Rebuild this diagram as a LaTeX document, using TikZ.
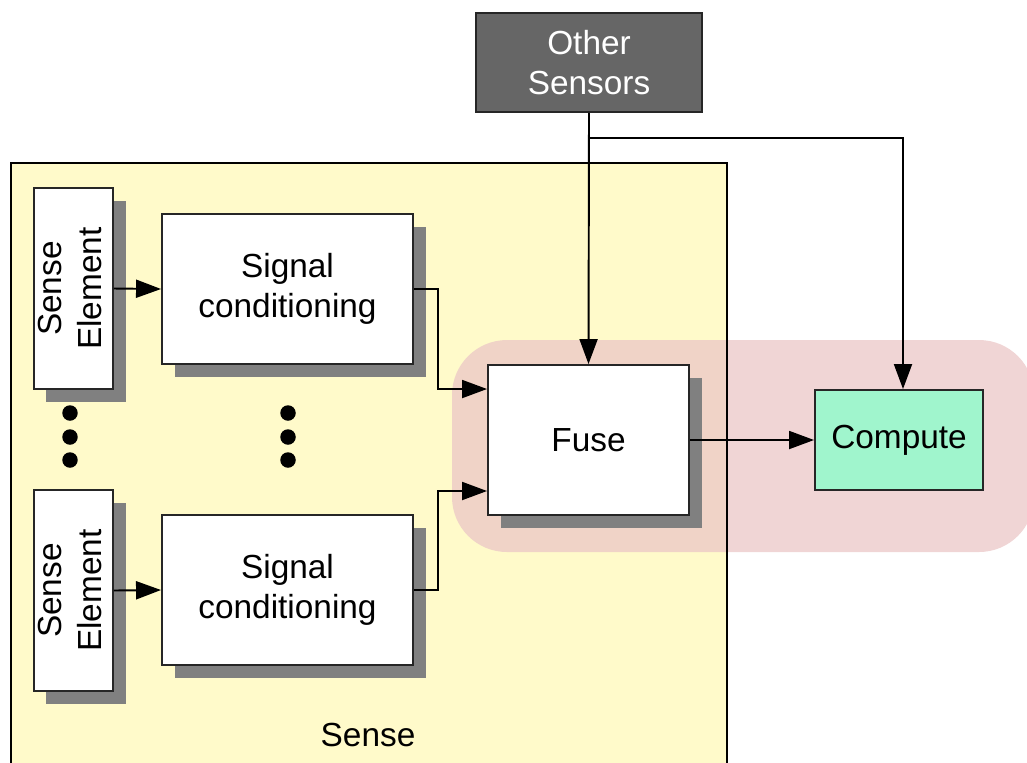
\documentclass[tikz,border=0pt]{standalone}
\usepackage{fontspec}
\setmainfont{Liberation Sans}
\usetikzlibrary{shadows,arrows.meta}
\definecolor{senseyellow}{RGB}{255,250,202}
\definecolor{fusepink}{RGB}{235,199,199}
\definecolor{computegreen}{RGB}{160,245,205}
\definecolor{othergray}{RGB}{102,102,102}
\definecolor{shadowgray}{RGB}{128,128,128}
\begin{document}
\begin{tikzpicture}[x=0.02cm,y=-0.02cm,
  box/.style={draw=black!85, line width=1.1pt, fill=white, inner sep=0pt, align=center, font=\fontsize{19}{22.5}\selectfont},
  shad/.style={drop shadow={shadow xshift=0.25cm,shadow yshift=-0.25cm,fill=shadowgray,opacity=1}},
  conn/.style={line width=1.1pt, -{Triangle[length=0.5cm,width=0.36cm]}},
  dot/.style={circle, fill=black, inner sep=0pt, minimum size=0.31cm},
  lbl/.style={font=\fontsize{19}{22.5}\selectfont}]

\useasboundingbox (0,0) rectangle (1027,762);
\fill[senseyellow] (11,163) rectangle (727,775);
\fill[fusepink, opacity=0.75, rounded corners=1.1cm] (452,340) rectangle (1034,552);
\draw[line width=1.1pt] (11,775) -- (11,163) -- (727,163) -- (727,775);

\node[box, shad, minimum width=75*0.02cm, minimum height=201*0.02cm] (se1) at (73.5,288.5)
  {\rotatebox{90}{\begin{tabular}{@{}c@{}}Sense\\Element\end{tabular}}};
\node[box, shad, minimum width=75*0.02cm, minimum height=201*0.02cm] (se2) at (73.5,590.5)
  {\rotatebox{90}{\begin{tabular}{@{}c@{}}Sense\\Element\end{tabular}}};
\node[box, shad, minimum width=251*0.02cm, minimum height=150*0.02cm] (sc1) at (287.5,289) {Signal\\conditioning};
\node[box, shad, minimum width=251*0.02cm, minimum height=150*0.02cm] (sc2) at (287.5,590) {Signal\\conditioning};
\node[box, shad, minimum width=201*0.02cm, minimum height=150*0.02cm] (fuse) at (588.5,440) {Fuse};
\node[box, fill=computegreen, minimum width=168*0.02cm, minimum height=100*0.02cm] (compute) at (899,440) {Compute};
\node[box, fill=othergray, text=white, minimum width=226*0.02cm, minimum height=99*0.02cm] (other) at (589,62.5) {Other\\Sensors};

\node[dot] (d1) at (70,413) {};
\node[dot] (d2) at (70,437) {};
\node[dot] (d3) at (70,460) {};
\node[dot] (d4) at (288,413) {};
\node[dot] (d5) at (288,437) {};
\node[dot] (d6) at (288,460) {};

\node[lbl] (senselbl) at (368,735) {Sense};

\coordinate (br) at (589,138);
\draw[conn] (se1.east) -- (sc1.west);
\draw[conn] (se2.east) -- (sc2.west);
\draw[conn] (sc1.east) -- ++(24,0) |- ([yshift=1.02cm]fuse.west);
\draw[conn] (sc2.east) -- ++(24,0) |- ([yshift=-1.02cm]fuse.west);
\draw[conn] (other.south) -- (fuse.north);
\draw[conn] (br) -| ([xshift=0.08cm]compute.north);
\draw[conn] (fuse.east) -- (compute.west);
\end{tikzpicture}
\end{document}
